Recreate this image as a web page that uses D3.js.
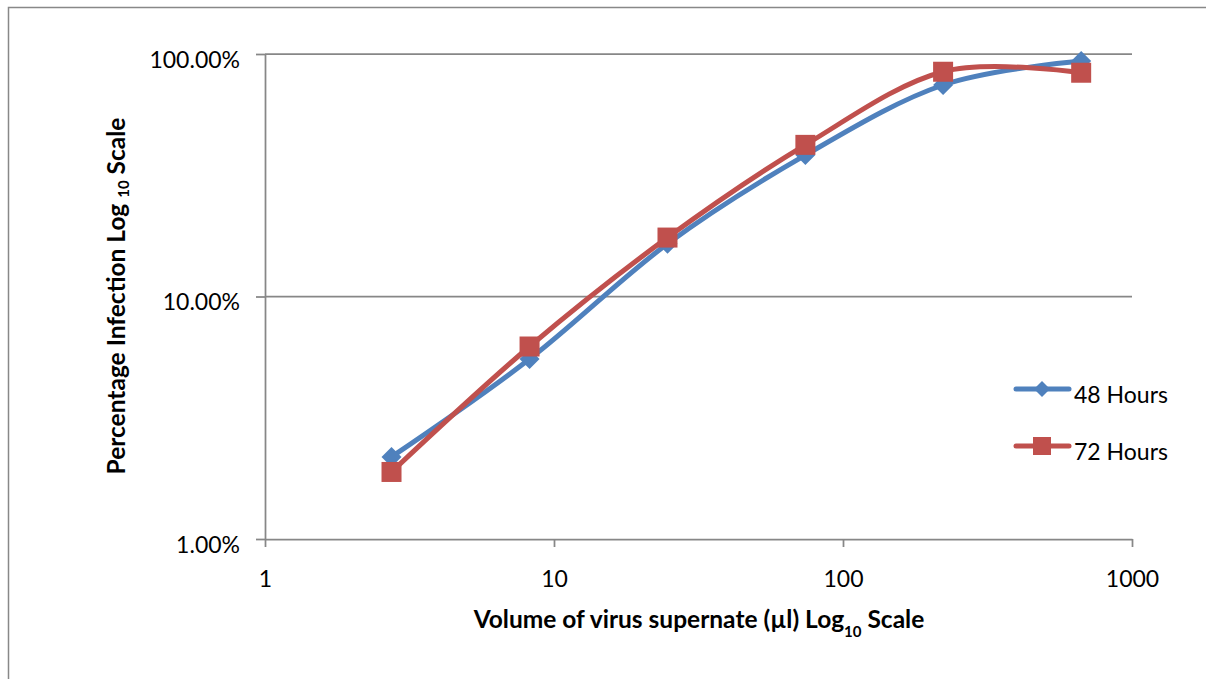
<!DOCTYPE html>
<html>
<head>
<meta charset="utf-8">
<script src="https://cdn.jsdelivr.net/npm/d3@7/dist/d3.min.js"></script>
<style>
  html, body { margin: 0; padding: 0; background: #fff; }
  svg { display: block; }
  text { font-family: Lato, "Open Sans", sans-serif; fill: #000; }
</style>
</head>
<body>
<svg id="chart" width="1206" height="679"></svg>
<script>
// ---- data ----
const volumes = [2.74, 8.23, 24.7, 74.1, 222, 667];            // µl
const hours48 = [0.0218, 0.0552, 0.165, 0.383, 0.745, 0.936];  // fraction infected
const hours72 = [0.0189, 0.0622, 0.175, 0.422, 0.845, 0.837];
const seriesNames = ["48 Hours", "72 Hours"];
const seriesColors = ["#4F81BD", "#C0504D"];
const xTicks = [1, 10, 100, 1000];
const yTicks = [0.01, 0.1, 1];
const xTitle = "Volume of virus supernate (µl) Log";
const yTitle = "Percentage Infection Log ";

const svg = d3.select("#chart");

// outer frame
svg.append("rect").attr("x", 8.5).attr("y", 7.5).attr("width", 1210).attr("height", 700)
  .attr("fill", "#fff").attr("stroke", "#888").attr("stroke-width", 1.5);

const x = d3.scaleLog().domain([1, 1000]).range([265, 1132]);
const y = d3.scaleLog().domain([0.01, 1]).range([539, 54]);

const gridColor = "#878787";

// gridlines
svg.append("g").selectAll("line").data(yTicks.filter(d => d > 0.01)).join("line")
  .attr("x1", x(1)).attr("x2", x(1000))
  .attr("y1", d => y(d)).attr("y2", d => y(d))
  .attr("stroke", gridColor).attr("stroke-width", 1.75);

// y axis
const yAxis = d3.axisLeft(y).tickValues(yTicks).tickSize(9).tickSizeOuter(0)
  .tickFormat(d3.format(".2%"));
const gy = svg.append("g").attr("transform", `translate(${x(1)},0)`).call(yAxis);
gy.select(".domain").attr("stroke", gridColor).attr("stroke-width", 1.75);
gy.selectAll(".tick line").attr("stroke", gridColor).attr("stroke-width", 1.75);
gy.selectAll(".tick text").attr("x", -25).attr("dy", null).attr("y", 13)
  .style("font-family", "Lato, sans-serif").style("font-size", "23px").attr("fill", "#000");

// x axis
const xAxis = d3.axisBottom(x).tickValues(xTicks).tickSize(8).tickSizeOuter(0)
  .tickFormat(d3.format("d"));
const gx = svg.append("g").attr("transform", `translate(0,${y(0.01)})`).call(xAxis);
gx.select(".domain").attr("stroke", gridColor).attr("stroke-width", 1.75);
gx.selectAll(".tick line").attr("stroke", gridColor).attr("stroke-width", 1.75);
gx.selectAll(".tick text").attr("dy", null).attr("y", 48)
  .style("font-family", "Lato, sans-serif").style("font-size", "23px").attr("fill", "#000");

// axis titles
const xt = svg.append("text").attr("x", 699).attr("y", 628).attr("text-anchor", "middle")
  .style("font-weight", "bold").style("font-size", "24.5px");
xt.append("tspan").text(xTitle);
xt.append("tspan").text("10").style("font-size", "15px").attr("dy", 9);
xt.append("tspan").text(" Scale").attr("dy", -9);

const yt = svg.append("text").attr("transform", "translate(125,296) rotate(-90)")
  .attr("text-anchor", "middle").style("font-weight", "bold").style("font-size", "24.5px");
yt.append("tspan").text(yTitle);
yt.append("tspan").text("10").style("font-size", "15px").attr("dy", 4);
yt.append("tspan").text(" Scale").attr("dy", -4);

// series
const series = [hours48, hours72];
const line = d3.line().x((d, i) => x(volumes[i])).y(d => y(d)).curve(d3.curveCardinal.tension(0));

series.forEach((vals, s) => {
  svg.append("path").datum(vals).attr("d", line)
    .attr("fill", "none").attr("stroke", seriesColors[s]).attr("stroke-width", 5)
    .attr("stroke-linejoin", "round").attr("stroke-linecap", "round");
});

function drawMarker(g, s, cx, cy, size) {
  if (s === 0) {
    g.append("path").attr("d", `M${cx},${cy - size}L${cx + size},${cy}L${cx},${cy + size}L${cx - size},${cy}Z`)
      .attr("fill", seriesColors[s]);
  } else {
    g.append("rect").attr("x", cx - size).attr("y", cy - size)
      .attr("width", size * 2).attr("height", size * 2).attr("fill", seriesColors[s]);
  }
}

series.forEach((vals, s) => {
  const g = svg.append("g");
  vals.forEach((v, i) => drawMarker(g, s, x(volumes[i]), y(v), 10));
});

// legend
const legendY = [389, 446];
seriesNames.forEach((name, s) => {
  const g = svg.append("g");
  g.append("line").attr("x1", 1016).attr("x2", 1069).attr("y1", legendY[s]).attr("y2", legendY[s])
    .attr("stroke", seriesColors[s]).attr("stroke-width", 5).attr("stroke-linecap", "round");
  drawMarker(g, s, 1042, legendY[s], s === 0 ? 8 : 9);
  g.append("text").attr("x", 1074).attr("y", legendY[s] + 14)
    .style("font-size", "23px").text(name);
});
</script>
</body>
</html>
